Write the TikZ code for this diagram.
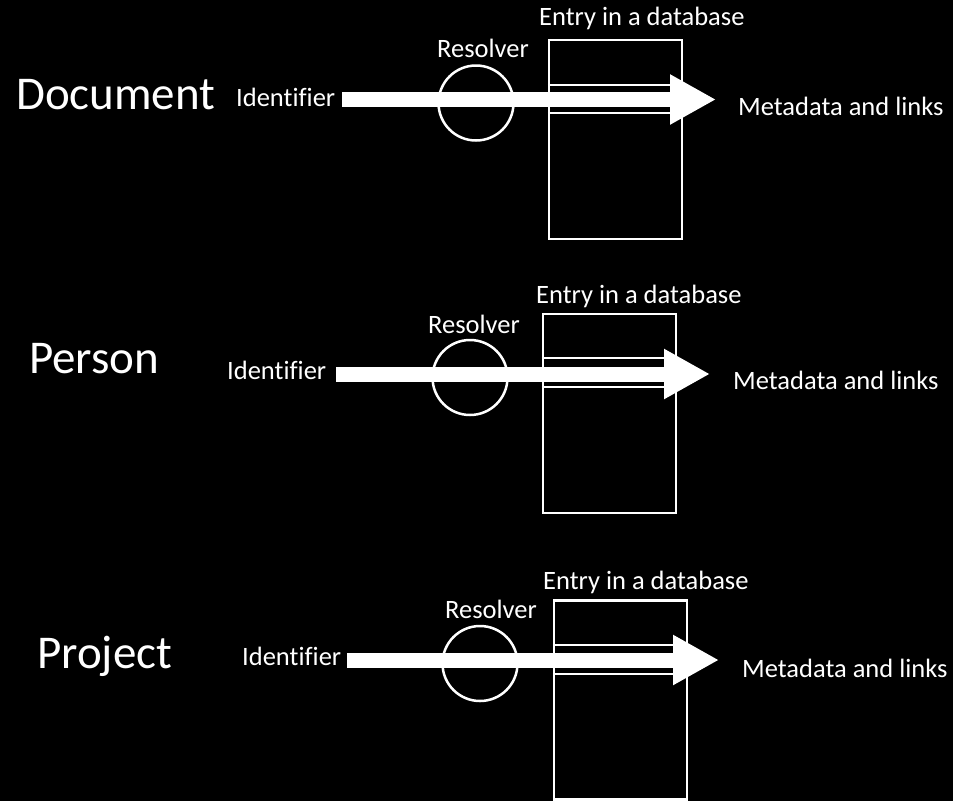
\documentclass[tikz,border=0pt]{standalone}
\usepackage{fontspec}
\setmainfont[Ligatures=NoCommon]{Carlito}
\usetikzlibrary{arrows.meta}
\begin{document}
\begin{tikzpicture}[x=1pt,y=-1pt,
  outline/.style={draw=white,line width=2.5pt},
  dbbox/.style={outline,rectangle,inner sep=0pt,minimum width=133pt,minimum height=199pt},
  resolverc/.style={outline,circle,inner sep=0pt,minimum size=75pt},
  small/.style={text=white,inner sep=0pt,anchor=base west,font=\fontsize{26.5}{30}\selectfont},
  big/.style={text=white,inner sep=0pt,anchor=base west,font=\fontsize{47}{54}\selectfont},
  bigarrow/.style={white,line width=15pt,-{Triangle[length=46pt,width=47pt]}}]
\fill[black] (0,0) rectangle (953,801);
\useasboundingbox (0,0) rectangle (953,801);

% --- Document ---
\node[big] (k1) at (16,109) {Document};
\node[small] (id1) at (236,106) {Identifier};
\node[small] (md1) at (738,115) {Metadata and links};
\node[small] (en1) at (539,25) {Entry in a database};
\node[small] (rs1) at (437,57) {Resolver};
\node[dbbox] (db1) at (615.5,139.5) {};
\draw[outline] (db1.west |- 0,85) -- (db1.east |- 0,85);
\draw[outline] (db1.west |- 0,113) -- (db1.east |- 0,113);
\node[resolverc] (c1) at (476,103) {};
\coordinate (a1s) at (342,99.5);
\coordinate (a1t) at (716,99.5);
\draw[bigarrow] (a1s) -- (a1t);

% --- Person ---
\node[big] (k2) at (29,373) {Person};
\node[small] (id2) at (227,379) {Identifier};
\node[small] (md2) at (733,389) {Metadata and links};
\node[small] (en2) at (536,303) {Entry in a database};
\node[small] (rs2) at (428,333) {Resolver};
\node[dbbox] (db2) at (609.5,413.5) {};
\draw[outline] (db2.west |- 0,358) -- (db2.east |- 0,358);
\draw[outline] (db2.west |- 0,387) -- (db2.east |- 0,387);
\node[resolverc] (c2) at (470,377.5) {};
\coordinate (a2s) at (336,374);
\coordinate (a2t) at (710,374);
\draw[bigarrow] (a2s) -- (a2t);

% --- Project ---
\node[big] (k3) at (37,668) {Project};
\node[small] (id3) at (242,665) {Identifier};
\node[small] (md3) at (742,677) {Metadata and links};
\node[small] (en3) at (543,589) {Entry in a database};
\node[small] (rs3) at (445,618) {Resolver};
\node[dbbox] (db3) at (620.5,700) {};
\draw[outline] (db3.west |- 0,645) -- (db3.east |- 0,645);
\draw[outline] (db3.west |- 0,674) -- (db3.east |- 0,674);
\node[resolverc] (c3) at (480,663.5) {};
\coordinate (a3s) at (347,660);
\coordinate (a3t) at (719,660);
\draw[bigarrow] (a3s) -- (a3t);
\end{tikzpicture}
\end{document}
